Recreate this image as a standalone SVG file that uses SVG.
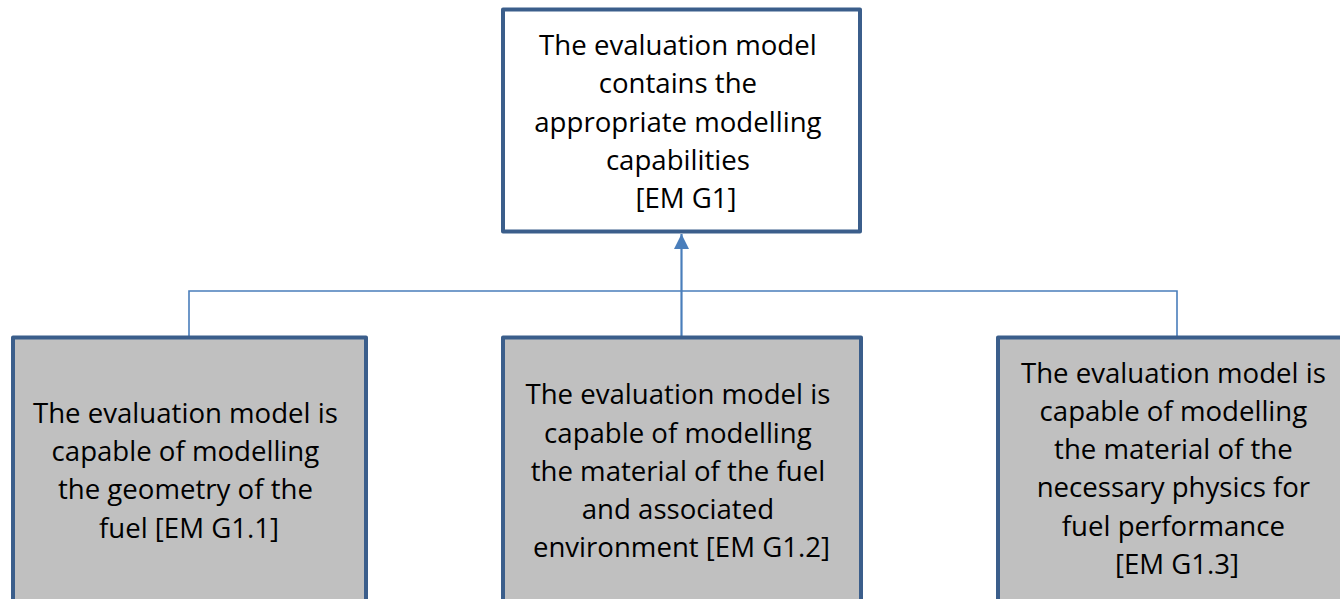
<svg xmlns="http://www.w3.org/2000/svg" width="1340" height="599" viewBox="0 0 1340 599">
  <style>
    .box { stroke: #3B5E8B; stroke-width: 4; stroke-linejoin: round; }
    .goal { fill: #FFFFFF; }
    .sub { fill: #C0C0C0; }
    .label { font-family: "Open Sans", "Noto Sans", "Liberation Sans", sans-serif; font-size: 27.6px; fill: #000000; text-anchor: middle; }
    .link { fill: none; stroke: #4A7EBB; stroke-width: 1.6; }
    .trunk { fill: none; stroke: #4A7EBB; stroke-width: 2.2; }
  </style>
  <defs>
    <!-- filled triangle head, tip sits on the line end -->
    <marker id="arrowhead" viewBox="0 0 16 16" refX="15" refY="8" markerWidth="16" markerHeight="16" markerUnits="userSpaceOnUse" orient="auto">
      <path d="M15 8 L0 0.5 L0 15.5 Z" fill="#4A7EBB"/>
    </marker>
  </defs>
  <rect width="1340" height="599" fill="#FFFFFF"/>

  <!-- connectors: three sub-goals joined into the parent goal -->
  <g id="connectors">
    <path class="link" d="M189 337 V291 H1177 V337"/>
    <line class="trunk" x1="681.5" y1="337" x2="681.5" y2="234" marker-end="url(#arrowhead)"/>
  </g>

  <!-- parent goal -->
  <g id="em-g1">
    <rect class="box goal" x="503" y="9.5" width="357" height="222"/>
    <text class="label">
      <tspan x="681.5" y="55">The evaluation model</tspan>
      <tspan x="681.5" y="93.3">contains the</tspan>
      <tspan x="681.5" y="131.6">appropriate modelling</tspan>
      <tspan x="681.5" y="169.9">capabilities</tspan>
      <tspan x="686" y="208.2">[EM G1]</tspan>
    </text>
  </g>

  <!-- sub-goal: geometry -->
  <g id="em-g1-1">
    <rect class="box sub" x="13" y="337.5" width="353" height="264"/>
    <text class="label">
      <tspan x="189" y="422.7">The evaluation model is</tspan>
      <tspan x="189" y="461">capable of modelling</tspan>
      <tspan x="189" y="499.3">the geometry of the</tspan>
      <tspan x="189" y="537.6">fuel [EM G1.1]</tspan>
    </text>
  </g>

  <!-- sub-goal: material and environment -->
  <g id="em-g1-2">
    <rect class="box sub" x="503" y="337.5" width="358" height="264"/>
    <text class="label">
      <tspan x="681.5" y="404.3">The evaluation model is</tspan>
      <tspan x="681.5" y="442.5">capable of modelling</tspan>
      <tspan x="681.5" y="480.7">the material of the fuel</tspan>
      <tspan x="681.5" y="518.9">and associated</tspan>
      <tspan x="681.5" y="557.1">environment [EM G1.2]</tspan>
    </text>
  </g>

  <!-- sub-goal: physics for fuel performance -->
  <g id="em-g1-3">
    <rect class="box sub" x="998" y="337.5" width="358" height="264"/>
    <text class="label">
      <tspan x="1177" y="382.7">The evaluation model is</tspan>
      <tspan x="1177" y="420.9">capable of modelling</tspan>
      <tspan x="1177" y="459.1">the material of the</tspan>
      <tspan x="1177" y="497.3">necessary physics for</tspan>
      <tspan x="1177" y="535.5">fuel performance</tspan>
      <tspan x="1177" y="573.7">[EM G1.3]</tspan>
    </text>
  </g>
</svg>
